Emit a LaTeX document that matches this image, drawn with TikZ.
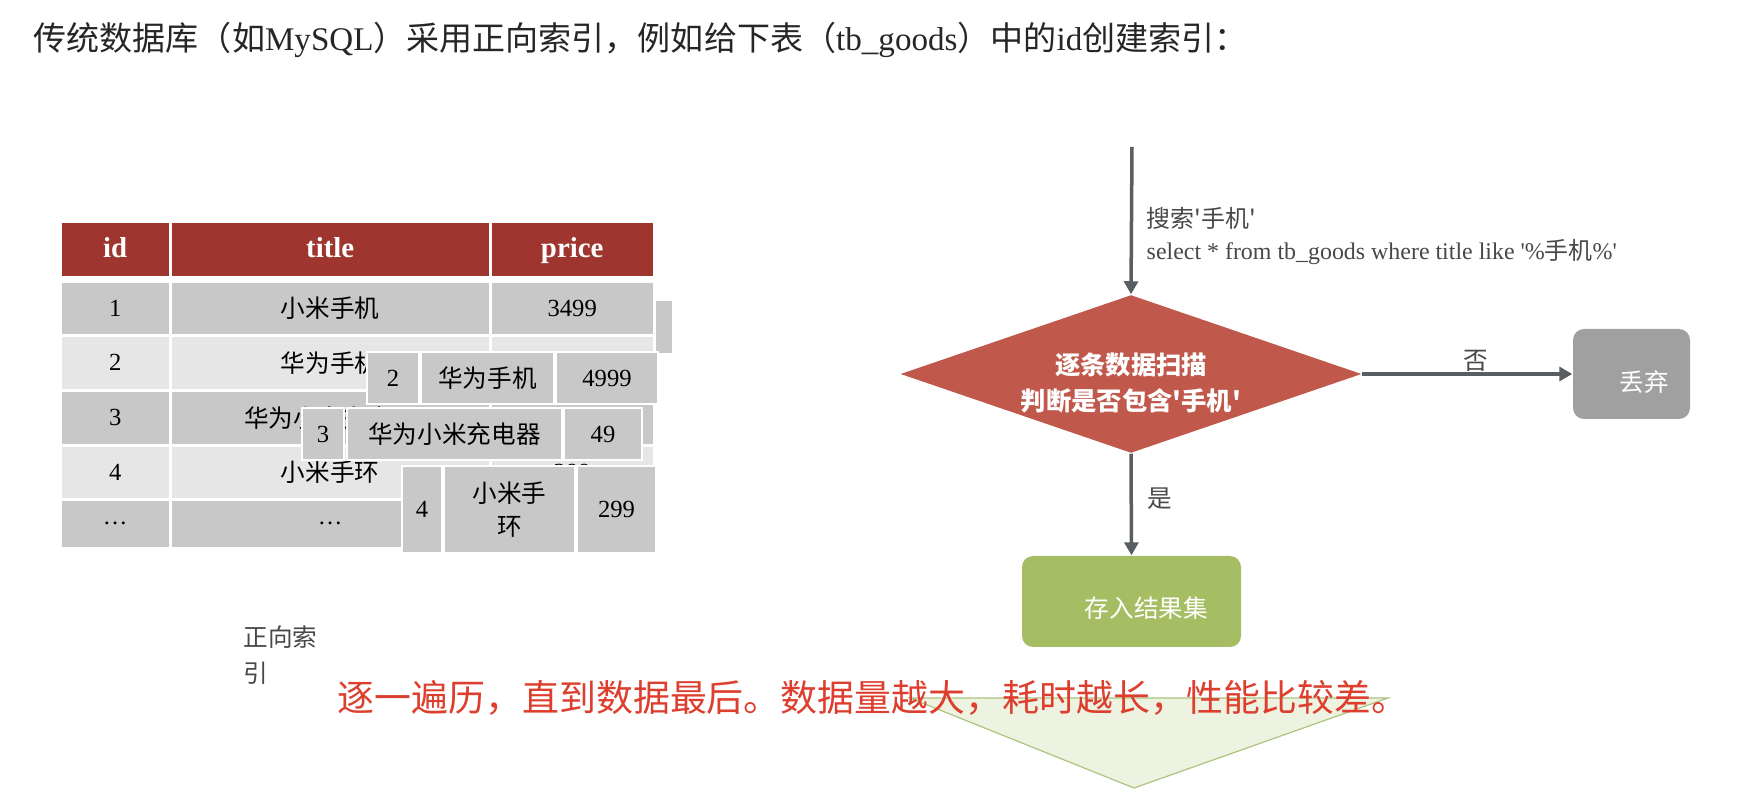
\documentclass[tikz,border=0pt]{standalone}
\usepackage{fontspec}
\setmainfont{Liberation Serif}
\newfontfamily\cjk{Noto Sans CJK SC}
\newcommand{\zh}[1]{{\cjk #1}}
\usetikzlibrary{arrows.meta,shapes.geometric}
\definecolor{tbHead}{RGB}{158,53,46}
\definecolor{tbDark}{RGB}{200,200,200}
\definecolor{tbLight}{RGB}{230,230,230}
\definecolor{fcRed}{RGB}{192,88,75}
\definecolor{fcGreen}{RGB}{166,190,99}
\definecolor{fcGray}{RGB}{160,160,160}
\definecolor{fcLine}{RGB}{88,94,98}
\definecolor{fcText}{RGB}{72,72,72}
\definecolor{noteRed}{RGB}{222,62,46}
\definecolor{triFill}{RGB}{238,243,225}
\definecolor{triDraw}{RGB}{172,196,128}

\begin{document}
\begin{tikzpicture}[
  x=0.01cm, y=-0.01cm,
  box/.style 2 args={minimum width=#1*0.01cm, minimum height=#2*0.01cm},
  cell/.style={
    anchor=north west, inner sep=0pt, fill=#1, align=center,
    font=\fontsize{7}{9.4}\selectfont
  },
  hcell/.style={cell=tbHead, text=white, text height=1.5ex, text depth=0.45ex,
    font=\fontsize{8.2}{10}\selectfont\bfseries},
  ocell/.style={cell=tbDark, draw=white, line width=0.02cm},
  zhcell/.style={font=\fontsize{7}{9.4}\selectfont\cjk},
  decide/.style={
    diamond, aspect=2.92, fill=fcRed, inner sep=0pt,
    minimum width=4.61cm, minimum height=1.58cm
  },
  procbox/.style={rectangle, rounded corners=0.11cm, fill=#1, inner sep=0pt},
  boxtxt/.style={text=white, inner sep=0pt, align=center, font=\fontsize{7}{10}\selectfont\cjk},
  lbl/.style={text=fcText, inner sep=0pt, font=\fontsize{7}{9.1}\selectfont},
  flow/.style={-{Triangle[width=0.14cm,length=0.13cm]}, line width=0.035cm, draw=fcLine}
]
\fill[white] (0,0) rectangle (1744,788);

% heading line
\node[anchor=west, inner sep=0pt, text=black!85, font=\fontsize{9.4}{11}\selectfont] (title) at (33,40)
  {\zh{传统数据库（如}MySQL\zh{）采用正向索引，例如给下表（}tb\_goods\zh{）中的}id\zh{创建索引：}};

% table tb_goods
\node[hcell, box={107}{53}] (hid) at (61,222) {id};
\node[hcell, box={317}{53}] (htitle) at (171,222) {title};
\node[hcell, box={161}{53}] (hprice) at (491,222) {price};

% price of rows 2, 3 and 5 is hidden under the pulled-out rows
\foreach \r/\y/\h/\c/\i/\t/\p in {1/282/51/tbDark/1/小米手机/3499,
    2/336/52/tbLight/2/华为手机/, 3/391/52/tbDark/3/华为小米充电器/,
    4/446/51/tbLight/4/小米手环/299}{
  \node[cell=\c, box={107}{\h}] (r\r-id) at (61,\y) {\i};
  \node[cell=\c, box={317}{\h}] (r\r-ti) at (171,\y) {\zh{\t}};
  \node[cell=\c, box={161}{\h}] (r\r-pr) at (491,\y) {\p};
}
\node[cell=tbDark, box={107}{46}] (r5-id) at (61,500) {\ldots};
\node[cell=tbDark, box={317}{46}] (r5-ti) at (171,500) {\ldots};
\node[cell=tbDark, box={161}{46}] (r5-pr) at (491,500) {};
\fill[tbDark] (656,301) rectangle (672,353);

% matched rows, pulled out of the table
\node[ocell, box={52}{52}] (m2-id) at (366,351) {2};
\node[ocell, zhcell, box={133}{52}] (m2-ti) at (420,351) {华为手机};
\node[ocell, box={102}{52}] (m2-pr) at (555,351) {4999};
\node[ocell, box={42}{52}] (m3-id) at (301,407) {3};
\node[ocell, zhcell, box={215}{52}] (m3-ti) at (346,407) {华为小米充电器};
\node[ocell, box={78}{52}] (m3-pr) at (563,407) {49};
\node[ocell, box={40}{87}] (m4-id) at (401,465) {4};
\node[ocell, zhcell, box={131}{87}] (m4-ti) at (443,465) {小米手\\环};
\node[ocell, box={79}{87}] (m4-pr) at (576,465) {299};

% scan flow
\coordinate (src) at (1132,147);
\node[decide] (scan) at (1131,374) {};
\node[boxtxt, font=\fontsize{7.2}{10}\selectfont\cjk\bfseries] (scanTxt) at (1131,383)
  {逐条数据扫描\\判断是否包含'手机'};
\node[procbox=fcGreen, box={219}{91}] (save) at (1131.5,601.5) {};
\node[boxtxt] (saveTxt) at (1146.5,608) {存入结果集};
\node[procbox=fcGray, box={117}{90}] (drop) at (1631.5,374) {};
\node[boxtxt] (dropTxt) at (1644,382) {丢弃};

\draw[flow] (src) -- (scan.north);
\draw[flow] (scan.south) -- (save.north);
\draw[flow] (scan.east) -- (drop.west);

\node[lbl, anchor=west, align=left, font=\fontsize{6.8}{9.1}\selectfont] (query) at (1146,236)
  {\zh{搜索'手机'}\\select * from tb\_goods where title like \textquotesingle\%\zh{手机}\%\textquotesingle};
\node[lbl, font=\fontsize{7}{9}\selectfont\cjk] (yes) at (1160,499) {是};
\node[lbl, font=\fontsize{7}{9}\selectfont\cjk] (no) at (1476,361) {否};

% bottom
\node[lbl, anchor=north west, align=left, font=\fontsize{7}{10.2}\selectfont\cjk] (fwd) at (243,625)
  {正向索\\引};
\draw[draw=triDraw, fill=triFill, line width=0.012cm] (910,698) -- (1388,698) -- (1134,788) -- cycle;
\node[anchor=west, inner sep=0pt, text=noteRed, font=\fontsize{10.5}{12}\selectfont\cjk] (note) at (337,698)
  {逐一遍历，直到数据最后。数据量越大，耗时越长，性能比较差。};

\end{tikzpicture}
\end{document}
